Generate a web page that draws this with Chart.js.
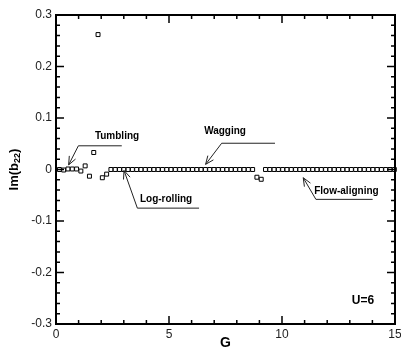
<!DOCTYPE html>
<html>
<head>
<meta charset="utf-8">
<script src="https://cdn.jsdelivr.net/npm/chart.js@4/dist/chart.umd.min.js"></script>
<style>
  html, body { margin: 0; padding: 0; background: #fff; }
  #wrap { width: 401px; height: 354px; }
</style>
</head>
<body>
<div id="wrap"><canvas id="my-chart"></canvas></div>
<script>
// G values (x) and Im(b22) values
const gValues = [
  0.15, 0.34, 0.53, 0.72, 0.91, 1.10, 1.29, 1.48, 1.67, 1.86,
  2.05, 2.24, 2.43, 2.62, 2.81, 3.00, 3.19, 3.38, 3.57, 3.76,
  3.95, 4.14, 4.33, 4.52, 4.71, 4.90, 5.09, 5.28, 5.47, 5.66,
  5.85, 6.04, 6.23, 6.42, 6.61, 6.80, 6.99, 7.18, 7.37, 7.56,
  7.75, 7.94, 8.13, 8.32, 8.51, 8.70, 8.89, 9.08, 9.27, 9.46,
  9.65, 9.84, 10.03, 10.22, 10.41, 10.60, 10.79, 10.98, 11.17, 11.36,
  11.55, 11.74, 11.93, 12.12, 12.31, 12.50, 12.69, 12.88, 13.07, 13.26,
  13.45, 13.64, 13.83, 14.02, 14.21, 14.40, 14.59, 14.78, 14.97
];
const imB22 = [
  0, -0.001, 0.001, 0.001, 0.001, -0.003, 0.007, -0.013, 0.033, 0.262,
  -0.016, -0.009, 0, 0, 0, 0, 0, 0, 0, 0,
  0, 0, 0, 0, 0, 0, 0, 0, 0, 0,
  0, 0, 0, 0, 0, 0, 0, 0, 0, 0,
  0, 0, 0, 0, 0, 0, -0.015, -0.019, 0, 0,
  0, 0, 0, 0, 0, 0, 0, 0, 0, 0,
  0, 0, 0, 0, 0, 0, 0, 0, 0, 0,
  0, 0, 0, 0, 0, 0, 0, 0, 0
];
const xTickLabels = [0, 5, 10, 15];
const yTickLabels = [-0.3, -0.2, -0.1, 0, 0.1, 0.2, 0.3];

// regime labels with leader arrows, in data units: [text, textX, textY, tip, elbow, end]
const notes = [
  ['Tumbling', 2.70, 0.065, [0.56, 0.009], [0.99, 0.046], [2.91, 0.046]],
  ['Wagging', 7.48, 0.075, [6.62, 0.010], [7.33, 0.051], [9.69, 0.051]],
  ['Log-rolling', 4.87, -0.057, [3.01, -0.002], [3.60, -0.075], [6.33, -0.075]],
  ['Flow-aligning', 12.85, -0.042, [10.94, -0.016], [11.50, -0.058], [14.01, -0.058]]
];

const points = gValues.map((g, i) => ({ x: g, y: imB22[i] }));

const framePlugin = {
  id: 'frame',
  afterDraw(chart) {
    const ctx = chart.ctx;
    const a = chart.chartArea;
    const xs = chart.scales.x, ys = chart.scales.y;
    ctx.save();
    ctx.strokeStyle = '#000';

    // inward ticks on all four sides
    ctx.lineWidth = 1.5;
    ctx.beginPath();
    for (let g = 0; g <= 15; g++) {
      const px = xs.getPixelForValue(g);
      const len = g % 5 === 0 ? 8 : 4;
      ctx.moveTo(px, a.bottom); ctx.lineTo(px, a.bottom - len);
      ctx.moveTo(px, a.top); ctx.lineTo(px, a.top + len);
    }
    for (let k = -15; k <= 15; k++) {
      const py = ys.getPixelForValue(k * 0.02);
      const len = k % 5 === 0 ? 8 : 4;
      ctx.moveTo(a.left, py); ctx.lineTo(a.left + len, py);
      ctx.moveTo(a.right, py); ctx.lineTo(a.right - len, py);
    }
    ctx.stroke();

    ctx.lineWidth = 2;
    ctx.strokeRect(a.left, a.top, a.right - a.left, a.bottom - a.top);

    // annotations
    ctx.lineWidth = 1;
    ctx.strokeStyle = '#222';
    ctx.fillStyle = '#000';
    ctx.font = 'bold 10px "Liberation Sans", Arial, sans-serif';
    ctx.textAlign = 'center';
    ctx.textBaseline = 'middle';
    notes.forEach(n => {
      const tip = [xs.getPixelForValue(n[3][0]), ys.getPixelForValue(n[3][1])];
      const elb = [xs.getPixelForValue(n[4][0]), ys.getPixelForValue(n[4][1])];
      const end = [xs.getPixelForValue(n[5][0]), ys.getPixelForValue(n[5][1])];
      ctx.beginPath();
      ctx.moveTo(tip[0], tip[1]);
      ctx.lineTo(elb[0], elb[1]);
      ctx.lineTo(end[0], end[1]);
      const ang = Math.atan2(elb[1] - tip[1], elb[0] - tip[0]);
      const h = 9, spread = 0.4;
      ctx.moveTo(tip[0] + h * Math.cos(ang - spread), tip[1] + h * Math.sin(ang - spread));
      ctx.lineTo(tip[0], tip[1]);
      ctx.lineTo(tip[0] + h * Math.cos(ang + spread), tip[1] + h * Math.sin(ang + spread));
      ctx.stroke();
      ctx.fillText(n[0], xs.getPixelForValue(n[1]), ys.getPixelForValue(n[2]));
    });

    ctx.font = 'bold 12px "Liberation Sans", Arial, sans-serif';
    ctx.fillText('U=6', xs.getPixelForValue(13.58), ys.getPixelForValue(-0.255));

    // axis titles
    ctx.font = 'bold 14px "Liberation Sans", Arial, sans-serif';
    ctx.fillText('G', (a.left + a.right) / 2, 343);

    ctx.translate(14, (a.top + a.bottom) / 2);
    ctx.rotate(-Math.PI / 2);
    ctx.font = 'bold 13px "Liberation Sans", Arial, sans-serif';
    const p1 = 'Im(b', sub = '22', p2 = ')';
    const w1 = ctx.measureText(p1).width;
    const w3 = ctx.measureText(p2).width;
    ctx.font = 'bold 9px "Liberation Sans", Arial, sans-serif';
    const w2 = ctx.measureText(sub).width;
    let x0 = -(w1 + w2 + w3) / 2;
    ctx.textAlign = 'left';
    ctx.font = 'bold 13px "Liberation Sans", Arial, sans-serif';
    ctx.fillText(p1, x0, 0);
    ctx.font = 'bold 9px "Liberation Sans", Arial, sans-serif';
    ctx.fillText(sub, x0 + w1, 4);
    ctx.font = 'bold 13px "Liberation Sans", Arial, sans-serif';
    ctx.fillText(p2, x0 + w1 + w2, 0);
    ctx.restore();
  }
};

window.addEventListener('DOMContentLoaded', function () {
  const ctx = document.getElementById('my-chart').getContext('2d');
  window.myChart = new Chart(ctx, {
    type: 'scatter',
    data: {
      datasets: [{
        data: points,
        pointStyle: 'rect',
        pointRadius: 2.8,
        pointBorderWidth: 1,
        borderColor: '#000',
        backgroundColor: '#fff',
        clip: false
      }]
    },
    options: {
      responsive: true,
      maintainAspectRatio: false,
      animation: false,
      layout: { padding: { top: 15, right: 0, left: 0, bottom: 0 } },
      plugins: { legend: { display: false }, tooltip: { enabled: false } },
      scales: {
        x: {
          type: 'linear',
          min: 0, max: 15,
          afterFit: s => { s.height = 30; s.paddingRight = 6; },
          afterBuildTicks: s => { s.ticks = xTickLabels.map(v => ({ value: v })); },
          grid: { display: false, drawTicks: false },
          border: { display: false },
          ticks: {
            padding: 3,
            color: '#222',
            font: { family: '"Liberation Sans", Arial, sans-serif', size: 12 },
            maxRotation: 0
          }
        },
        y: {
          min: -0.3, max: 0.3,
          afterFit: s => { s.width = 56; },
          afterBuildTicks: s => { s.ticks = yTickLabels.map(v => ({ value: v })); },
          grid: { display: false, drawTicks: false },
          border: { display: false },
          ticks: {
            padding: 4,
            color: '#222',
            font: { family: '"Liberation Sans", Arial, sans-serif', size: 12 },
            callback: v => String(Math.round(v * 10) / 10)
          }
        }
      }
    },
    plugins: [framePlugin]
  });
});
</script>
</body>
</html>
